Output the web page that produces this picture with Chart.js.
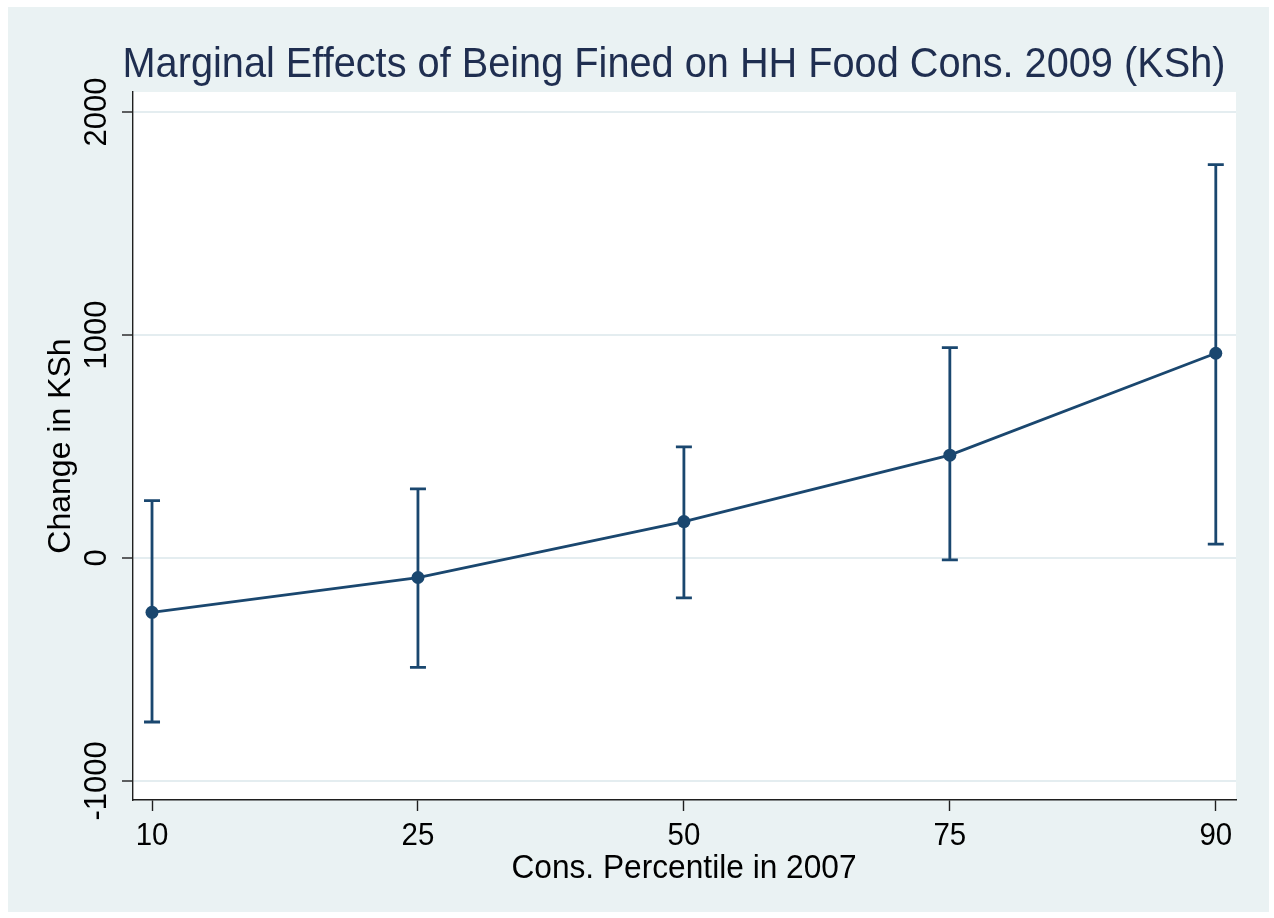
<!DOCTYPE html>
<html>
<head>
<meta charset="utf-8">
<script src="https://cdn.jsdelivr.net/npm/chart.js@4/dist/chart.umd.min.js"></script>
<style>
  html, body { margin: 0; padding: 0; background: #ffffff; }
  #wrap { width: 1274px; height: 918px; }
</style>
</head>
<body>
<div id="wrap"><canvas id="c" width="1274" height="918"></canvas></div>
<script>
// Marginal effect estimates with 95% confidence bounds, by consumption percentile
const percentiles = ['10', '25', '50', '75', '90'];
const marginalEffect = [-244, -88, 163, 461, 918];
const ciLower = [-736, -491, -179, -9, 62];
const ciUpper = [257, 310, 498, 943, 1764];
const yTickValues = [-1000, 0, 1000, 2000];

const chartTitle = 'Marginal Effects of Being Fined on HH Food Cons. 2009 (KSh)';
const xAxisTitle = 'Cons. Percentile in 2007';
const yAxisTitle = 'Change in KSh';

const NAVY = '#1a476f';
const PANEL = '#eaf2f3';
const AXIS = '#1f1f1f';
const FONT = "'Liberation Sans', Arial, Helvetica, sans-serif";

// Draws text condensed horizontally by factor sx, anchored at its centre
function condensedText(ctx, text, cx, y, sx) {
  const w = ctx.measureText(text).width * sx;
  ctx.save();
  ctx.translate(cx - w / 2, y);
  ctx.scale(sx, 1);
  ctx.textAlign = 'left';
  ctx.fillText(text, 0, 0);
  ctx.restore();
}

// Background: light graph region with a white plot region
const backgroundPlugin = {
  id: 'background',
  beforeDraw(chart) {
    const { ctx, chartArea: a, width, height } = chart;
    ctx.save();
    ctx.fillStyle = '#ffffff';
    ctx.fillRect(0, 0, width, height);
    ctx.fillStyle = PANEL;
    ctx.fillRect(8, 7, 1261, 905);
    ctx.fillStyle = '#ffffff';
    ctx.fillRect(a.left, a.top, a.right - a.left, a.bottom - a.top);
    ctx.restore();
  }
};

// Vertical confidence interval bars with flat caps
const errorBarPlugin = {
  id: 'errorBars',
  beforeDatasetsDraw(chart) {
    const { ctx, scales: { x, y } } = chart;
    ctx.save();
    ctx.strokeStyle = NAVY;
    ctx.lineWidth = 2.8;
    ctx.lineCap = 'butt';
    const cap = 8;
    percentiles.forEach((_, i) => {
      const px = x.getPixelForValue(i);
      const top = y.getPixelForValue(ciUpper[i]);
      const bot = y.getPixelForValue(ciLower[i]);
      ctx.beginPath();
      ctx.moveTo(px, top); ctx.lineTo(px, bot);
      ctx.moveTo(px - cap, top); ctx.lineTo(px + cap, top);
      ctx.moveTo(px - cap, bot); ctx.lineTo(px + cap, bot);
      ctx.stroke();
    });
    ctx.restore();
  }
};

// Title, tick labels and axis titles
const textPlugin = {
  id: 'texts',
  afterDraw(chart) {
    const { ctx, scales: { x, y } } = chart;
    ctx.save();
    ctx.textBaseline = 'alphabetic';

    // Title, condensed to span its line
    ctx.fillStyle = '#1f2e50';
    ctx.font = '42px ' + FONT;
    const tw = ctx.measureText(chartTitle).width;
    condensedText(ctx, chartTitle, 674, 77, Math.min(1, 1103 / tw));

    // X tick labels
    ctx.fillStyle = '#000000';
    ctx.font = '32px ' + FONT;
    percentiles.forEach((lab, i) => {
      condensedText(ctx, lab, x.getPixelForValue(i), 845, 0.92);
    });

    // X axis title
    ctx.font = '33px ' + FONT;
    condensedText(ctx, xAxisTitle, 684, 878, 0.96);

    // Y tick labels, rotated
    ctx.font = '31px ' + FONT;
    yTickValues.forEach(v => {
      ctx.save();
      ctx.translate(106, y.getPixelForValue(v));
      ctx.rotate(-Math.PI / 2);
      ctx.textAlign = 'center';
      ctx.fillText(String(v), 0, 0);
      ctx.restore();
    });

    // Y axis title
    ctx.font = '32px ' + FONT;
    ctx.save();
    ctx.translate(70, (chart.chartArea.top + chart.chartArea.bottom) / 2);
    ctx.rotate(-Math.PI / 2);
    ctx.textAlign = 'center';
    ctx.fillText(yAxisTitle, 0, 0);
    ctx.restore();

    ctx.restore();
  }
};

new Chart(document.getElementById('c'), {
  type: 'line',
  data: {
    datasets: [{
      data: marginalEffect.map((v, i) => ({ x: i, y: v })),
      borderColor: NAVY,
      backgroundColor: NAVY,
      borderWidth: 2.8,
      pointRadius: 6.5,
      pointHoverRadius: 6.5,
      pointBackgroundColor: NAVY,
      pointBorderColor: NAVY,
      pointBorderWidth: 0,
      tension: 0,
      fill: false,
      clip: false
    }]
  },
  options: {
    responsive: false,
    animation: false,
    devicePixelRatio: 1,
    events: [],
    layout: { padding: { left: 0, top: 92, right: 38, bottom: 0 } },
    plugins: {
      legend: { display: false },
      title: { display: false },
      tooltip: { enabled: false }
    },
    scales: {
      x: {
        type: 'linear',
        min: -0.0715,
        max: 4.076,
        afterBuildTicks: s => { s.ticks = percentiles.map((_, i) => ({ value: i })); },
        afterFit: s => { s.height = 118; },
        ticks: { display: false },
        grid: {
          drawOnChartArea: false,
          drawTicks: true,
          tickLength: 11,
          tickColor: AXIS,
          tickWidth: 1.4
        },
        border: { display: true, color: AXIS, width: 1.4 }
      },
      y: {
        type: 'linear',
        min: -1086,
        max: 2090,
        afterBuildTicks: s => { s.ticks = yTickValues.map(v => ({ value: v })); },
        afterFit: s => { s.width = 133; },
        ticks: { display: false },
        grid: {
          color: '#e4edf0',
          lineWidth: 2,
          drawTicks: true,
          tickLength: 11,
          tickColor: AXIS,
          tickWidth: 1.4
        },
        border: { display: true, color: AXIS, width: 1.4 }
      }
    }
  },
  plugins: [backgroundPlugin, errorBarPlugin, textPlugin]
});
</script>
</body>
</html>
